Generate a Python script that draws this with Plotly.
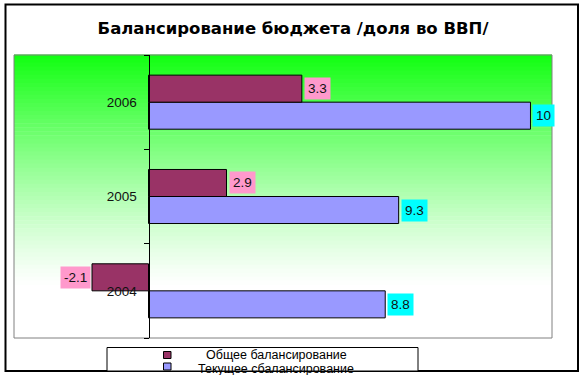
import plotly.graph_objects as go

# ---- data ----
years = ["2004", "2005", "2006"]
series_names = ["Общее балансирование", "Текущее сбалансирование"]
# bar lengths as drawn in the picture
overall_values = [-2.1, 2.9, 5.7]
current_values = [8.8, 9.3, 14.2]
# data-label texts shown in the picture
overall_labels = ["-2.1", "2.9", "3.3"]
current_labels = ["8.8", "9.3", "10"]
title_text = "Балансирование бюджета /доля во ВВП/"

# ---- layout geometry (pixels) ----
W, H = 586, 375
ML, MR, MT, MB = 14, 34, 55, 37
PW, PH = W - ML - MR, H - MT - MB
XR = [-5, 15]
BARGAP = 0.427

def px2x(px):
    return (px - ML) / PW

def py2y(py):
    return (H - MB - py) / PH

C_OVERALL = "#993366"
C_CURRENT = "#9999FF"
L_OVERALL = "#FF99CC"
L_CURRENT = "#00FFFF"
FONT = "Liberation Sans, Arial"

fig = go.Figure()
fig.add_trace(go.Bar(y=years, x=current_values, orientation="h", name=series_names[1],
                     marker=dict(color=C_CURRENT, line=dict(color="black", width=1)),
                     showlegend=False))
fig.add_trace(go.Bar(y=years, x=overall_values, orientation="h", name=series_names[0],
                     marker=dict(color=C_OVERALL, line=dict(color="black", width=1)),
                     showlegend=False))

# gradient background of plot area
shapes = []
N = 70
for i in range(N):
    d = (i + 0.5) / N
    s = min(1.0, d / 0.82)
    mix = (1 - s) ** 1.2
    c = int(round(255 - mix * (255 - 17)))
    shapes.append(dict(type="rect", xref="x domain", yref="y domain",
                       x0=0, x1=1, y0=1 - (i + 1) / N, y1=1 - i / N + 0.002,
                       fillcolor=f"rgb({c},255,{c})", line=dict(width=0), layer="below"))
# plot area border
shapes.append(dict(type="rect", xref="x domain", yref="y domain", x0=0, x1=1, y0=0, y1=1,
                   line=dict(color="#808080", width=1), layer="below"))
# outer chart border
shapes.append(dict(type="rect", xref="paper", yref="paper",
                   x0=px2x(5.5), x1=px2x(578), y0=py2y(371), y1=py2y(4.5),
                   line=dict(color="black", width=2)))
# custom legend box
shapes.append(dict(type="rect", xref="paper", yref="paper",
                   x0=px2x(107), x1=px2x(418), y0=py2y(371), y1=py2y(347.5),
                   line=dict(color="black", width=1), fillcolor="white"))
legend_rows = [(355.0, 354.5, C_OVERALL), (366.5, 368.5, C_CURRENT)]
for ym, yt, col in legend_rows:
    shapes.append(dict(type="rect", xref="paper", yref="paper",
                       x0=px2x(163.5), x1=px2x(171), y0=py2y(ym + 3.5), y1=py2y(ym - 3.5),
                       line=dict(color="black", width=1), fillcolor=col))

annotations = []
band_px = PH / len(years)
bar_px = band_px * (1 - BARGAP) / 2
off = bar_px / 2
for i, y in enumerate(years):
    for val, lab, bg, ysh in ((overall_values[i], overall_labels[i], L_OVERALL, off),
                              (current_values[i], current_labels[i], L_CURRENT, -off)):
        annotations.append(dict(x=val, y=i, xref="x", yref="y", text=lab, showarrow=False,
                                xanchor="left" if val >= 0 else "right",
                                xshift=2 if val >= 0 else -1, yshift=ysh,
                                bgcolor=bg, borderpad=3,
                                font=dict(family=FONT, size=13.5, color="#111111")))
for (ym, yt, col), name in zip(legend_rows, series_names):
    annotations.append(dict(x=px2x(276), y=py2y(yt), xref="paper", yref="paper", text=name,
                            showarrow=False, xanchor="center", yanchor="middle",
                            font=dict(family=FONT, size=12.5, color="black")))

yaxis_pos = (0 - XR[0]) / (XR[1] - XR[0])

fig.update_layout(
    width=W, height=H,
    margin=dict(l=ML, r=MR, t=MT, b=MB),
    paper_bgcolor="white", plot_bgcolor="white",
    barmode="group", bargap=BARGAP, bargroupgap=0,
    title=dict(text="<b>" + title_text + "</b>", x=0.5, xref="container", xanchor="center",
               y=1 - 28 / H, yanchor="middle",
               font=dict(family="DejaVu Sans", size=16.5, color="black")),
    xaxis=dict(range=XR, visible=False, showgrid=False, zeroline=False),
    yaxis=dict(type="category", anchor="free", position=yaxis_pos,
               range=[-0.5, len(years) - 0.5], autorange=False,
               showline=True, linecolor="black", linewidth=1,
               ticks="outside", tickson="boundaries", ticklen=5, tickcolor="black",
               ticklabelstandoff=9, showgrid=False, zeroline=False,
               tickfont=dict(family=FONT, size=13.5, color="#111111")),
    shapes=shapes, annotations=annotations, showlegend=False,
)

fig.write_html("out.html")
